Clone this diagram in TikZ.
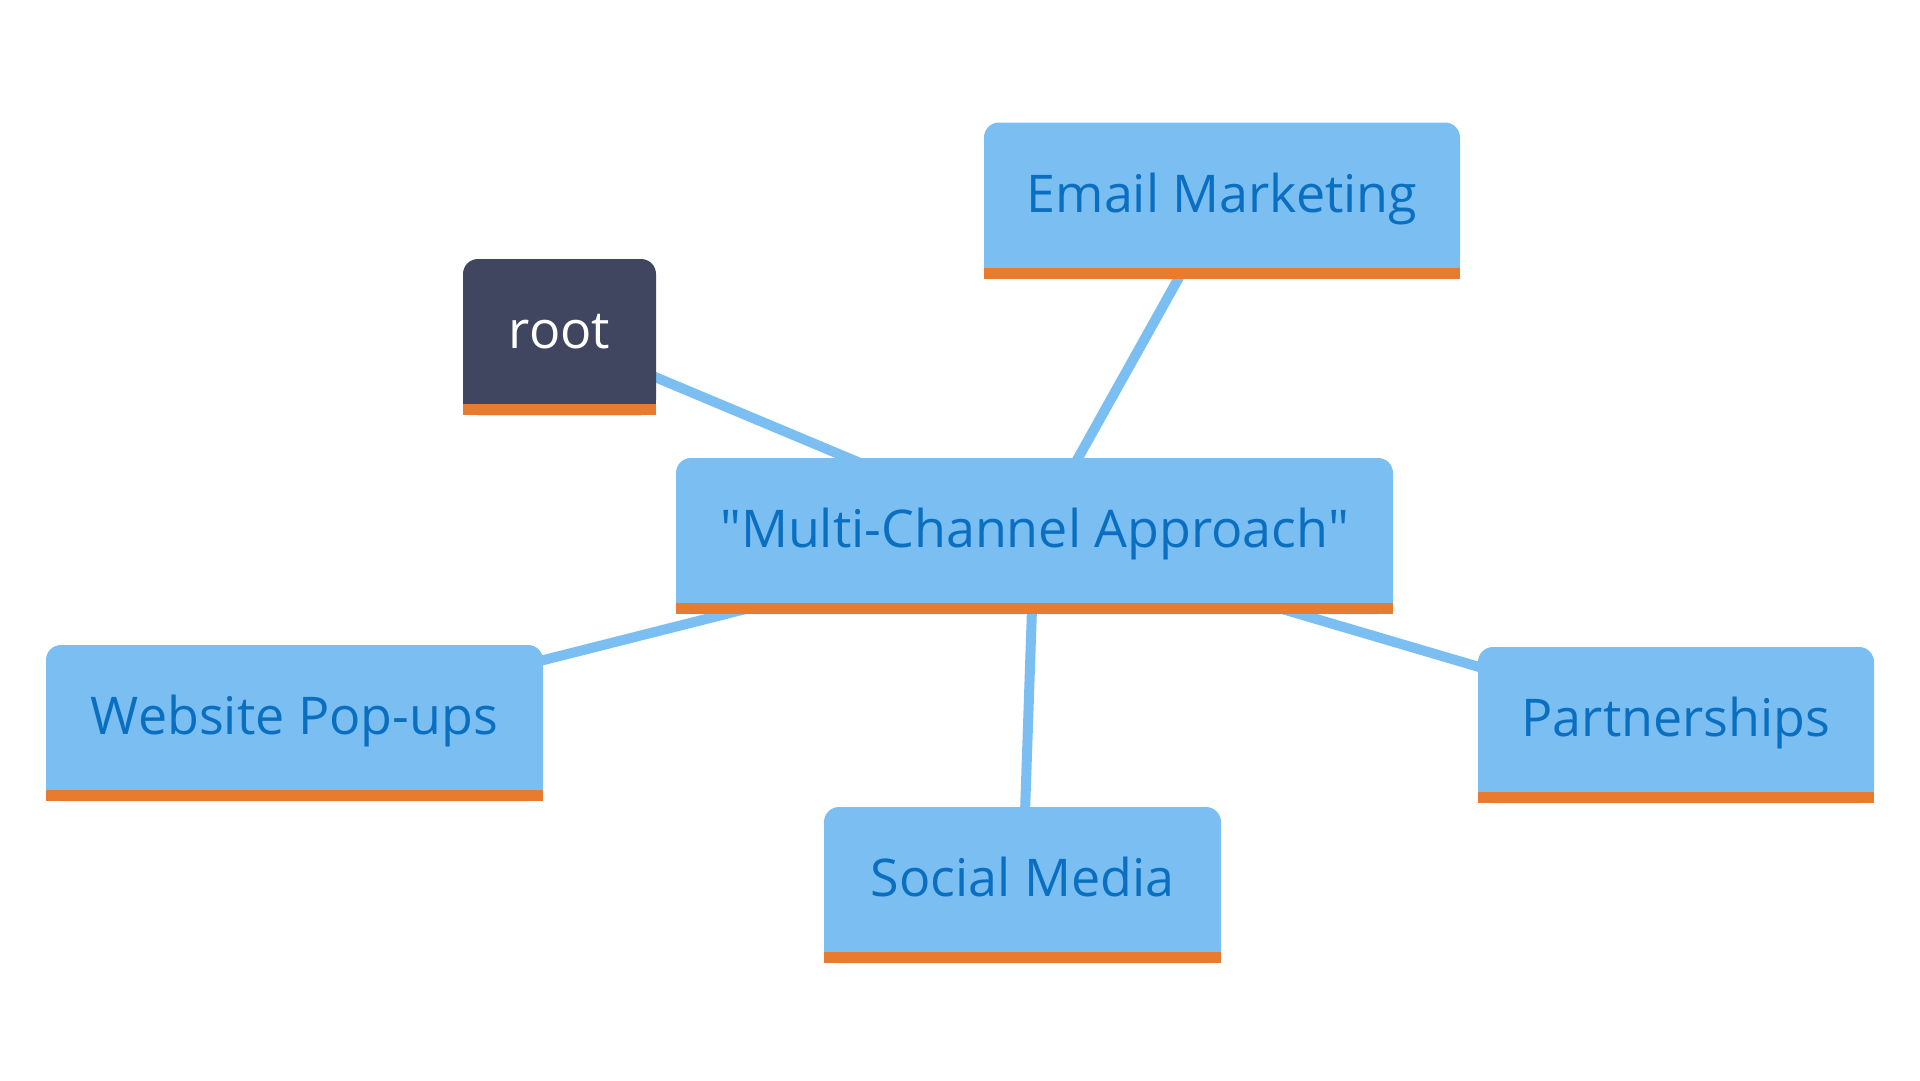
\documentclass[tikz,border=0pt]{standalone}
\usepackage{fontspec}
\setmainfont{Open Sans}[Ligatures=TeXOff]
\usetikzlibrary{backgrounds}
\definecolor{boxblue}{HTML}{7BBFF2}
\definecolor{txtblue}{HTML}{0A6FC0}
\definecolor{barorange}{HTML}{E87B2D}
\definecolor{rootdark}{HTML}{414660}
\newcommand{\nodebar}[2]{%
  \fill[#2] (#1.south west) rectangle ([yshift=20pt]#1.south east);
  \fill[barorange] (#1.south west) rectangle ([yshift=11pt]#1.south east);}
\begin{document}
\begin{tikzpicture}[x=1pt,y=-1pt,
  box/.style={rectangle, rounded corners=15pt, fill=boxblue, text=txtblue,
    inner sep=0pt, minimum height=156pt, font=\fontsize{52}{62}\selectfont,
    text height=37pt, text depth=14pt},
  rootbox/.style={box, fill=rootdark, text=white},
  edge/.style={draw=boxblue, line width=10pt}]
\useasboundingbox (0,0) rectangle (1920,1080);
\begin{scope}[on background layer]
  \fill[white] (0,0) rectangle (1920,1080);
\end{scope}

\node[rootbox, minimum width=193pt] (root) at (559.5,337) {root};
\node[box, minimum width=476pt] (email) at (1222,200.5) {Email Marketing};
\node[box, minimum width=717pt] (multi) at (1034.5,536) {"Multi-Channel Approach"};
\node[box, minimum width=497pt] (web) at (294.5,723) {Website Pop-ups};
\node[box, minimum width=397pt] (social) at (1022.5,885) {Social Media};
\node[box, minimum width=396pt] (part) at (1676,725) {Partnerships};

\nodebar{root}{rootdark}
\nodebar{email}{boxblue}
\nodebar{multi}{boxblue}
\nodebar{web}{boxblue}
\nodebar{social}{boxblue}
\nodebar{part}{boxblue}

\begin{scope}[on background layer]
  \draw[edge] (root.center) -- (multi.center);
  \draw[edge] (email.center) -- (multi.center);
  \draw[edge] (web.center) -- (multi.center);
  \draw[edge] (social.center) -- (multi.center);
  \draw[edge] (part.center) -- (multi.center);
\end{scope}
\end{tikzpicture}
\end{document}
